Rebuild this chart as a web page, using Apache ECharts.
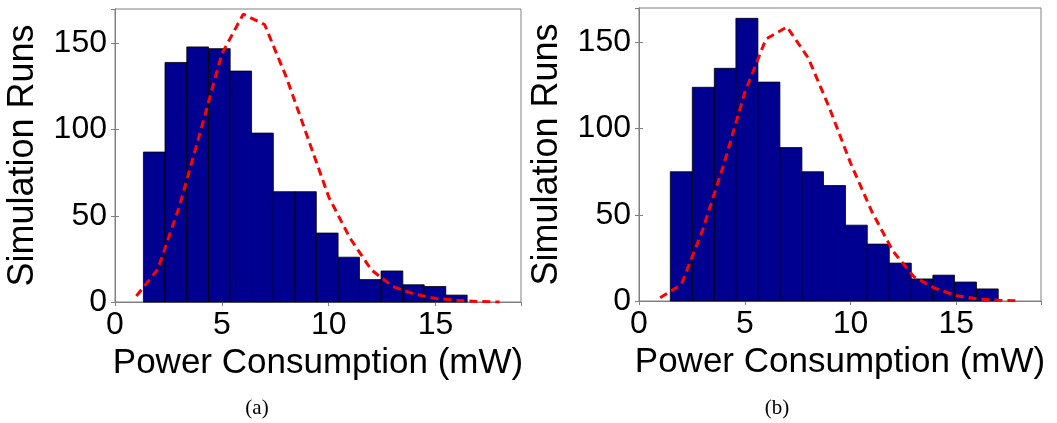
<!DOCTYPE html>
<html>
<head>
<meta charset="utf-8">
<script src="https://cdn.jsdelivr.net/npm/echarts@6/dist/echarts.min.js"></script>
<style>html,body{margin:0;padding:0;background:#fff;}#c{width:1057px;height:423px;}</style>
</head>
<body>
<div id="c"></div>
<script>
// ---- Data ----
const binEdgesA = [1.33, 2.34, 3.36, 4.38, 5.39, 6.39, 7.41, 8.42, 9.42, 10.44, 11.44, 12.45, 13.47, 14.47, 15.48, 16.48];
const countsA = [87, 139, 148, 147, 134, 98, 64, 64, 40, 26, 13, 18, 10, 9, 4];
const curveXA = [1, 2, 3, 4, 5, 6, 7, 8, 9, 10, 11, 12, 13, 14, 15, 16, 17, 18];
const curveYA = [3.5, 19, 55, 99, 144, 167, 161, 131, 96, 61, 37, 18.6, 9, 4.6, 2.1, 1, 0.3, 0];

const binEdgesB = [1.48, 2.52, 3.56, 4.58, 5.62, 6.66, 7.70, 8.72, 9.76, 10.79, 11.83, 12.87, 13.89, 14.91, 15.95, 16.98];
const countsB = [75, 124, 135, 164, 127, 89, 75, 67, 44, 33, 22, 12.8, 15, 11, 7];
const curveXB = [1, 2, 3, 4, 5, 6, 7, 8, 9, 10, 11, 12, 13, 14, 15, 16, 17, 18];
const curveYB = [1.9, 9.5, 41, 79, 121, 152, 159, 141, 112, 80, 52, 29, 14, 7.3, 3.1, 1.2, 0.4, 0];

const xTicks = [0, 5, 10, 15];
const yTicks = [0, 50, 100, 150];
const xTitle = 'Power Consumption (mW)';
const yTitle = 'Simulation Runs';
const captions = ['(a)', '(b)'];

// ---- Chart ----
const FONT = '"Liberation Sans", Arial, Helvetica, sans-serif';
const GRAY = '#808080';
const chart = echarts.init(document.getElementById('c'));

function histData(edges, counts) {
  return counts.map((c, i) => [edges[i], edges[i + 1], c]);
}
function renderBar(params, api) {
  const p0 = api.coord([api.value(0), api.value(2)]);
  const p1 = api.coord([api.value(1), 0]);
  return {
    type: 'rect',
    shape: { x: p0[0], y: p0[1], width: p1[0] - p0[0], height: p1[1] - p0[1] },
    style: { fill: '#000090', stroke: '#000000', lineWidth: 0.8 }
  };
}
function xAx(gi, pos, showLabel) {
  return {
    type: 'value', gridIndex: gi, position: pos, min: 0, max: 19, interval: 5,
    name: showLabel ? xTitle : '', nameLocation: 'middle', nameGap: 40,
    nameTextStyle: { fontFamily: FONT, fontSize: 35, color: '#000' },
    axisLine: { show: true, lineStyle: { color: GRAY, width: 1 } },
    axisTick: { show: true, inside: true, length: 4, lineStyle: { color: GRAY } },
    axisLabel: {
      show: showLabel, fontFamily: FONT, fontSize: 32, color: '#000', margin: 7,
      showMaxLabel: false,
      formatter: v => (xTicks.indexOf(v) >= 0 ? String(v) : '')
    },
    splitLine: { show: false }
  };
}
function yAx(gi, pos, showLabel) {
  return {
    type: 'value', gridIndex: gi, position: pos, min: 0, max: 170, interval: 50,
    name: showLabel ? yTitle : '', nameLocation: 'middle', nameGap: 74,
    nameTextStyle: { fontFamily: FONT, fontSize: 36, color: '#000' },
    axisLine: { show: true, lineStyle: { color: GRAY, width: 1 } },
    axisTick: { show: true, inside: true, length: 4, lineStyle: { color: GRAY } },
    axisLabel: {
      show: showLabel, fontFamily: FONT, fontSize: 32, color: '#000', margin: 8,
      showMaxLabel: false,
      formatter: v => (yTicks.indexOf(v) >= 0 ? String(v) : '')
    },
    splitLine: { show: false }
  };
}

const option = {
  backgroundColor: '#ffffff',
  animation: false,
  grid: [
    { left: 115, top: 9, width: 406, height: 293, show: true, borderColor: GRAY, borderWidth: 1, backgroundColor: '#fff' },
    { left: 639, top: 8, width: 402, height: 293, show: true, borderColor: GRAY, borderWidth: 1, backgroundColor: '#fff' }
  ],
  xAxis: [xAx(0, 'bottom', true), xAx(0, 'top', false), xAx(1, 'bottom', true), xAx(1, 'top', false)],
  yAxis: [yAx(0, 'left', true), yAx(0, 'right', false), yAx(1, 'left', true), yAx(1, 'right', false)],
  series: [
    { type: 'custom', xAxisIndex: 0, yAxisIndex: 0, renderItem: renderBar, encode: { x: [0, 1], y: 2 }, data: histData(binEdgesA, countsA), z: 2 },
    { type: 'line', xAxisIndex: 0, yAxisIndex: 0, data: curveXA.map((x, i) => [x, curveYA[i]]), symbol: 'none', lineStyle: { color: '#ff0000', width: 3, type: [8, 5] }, z: 3 },
    { type: 'custom', xAxisIndex: 2, yAxisIndex: 2, renderItem: renderBar, encode: { x: [0, 1], y: 2 }, data: histData(binEdgesB, countsB), z: 2 },
    { type: 'line', xAxisIndex: 2, yAxisIndex: 2, data: curveXB.map((x, i) => [x, curveYB[i]]), symbol: 'none', lineStyle: { color: '#ff0000', width: 3, type: [8, 5] }, z: 3 }
  ],
  graphic: [
    { type: 'text', x: 257, y: 398, style: { text: captions[0], fontFamily: '"Liberation Serif", "Times New Roman", serif', fontSize: 21, fill: '#000', align: 'center' } },
    { type: 'text', x: 777, y: 398, style: { text: captions[1], fontFamily: '"Liberation Serif", "Times New Roman", serif', fontSize: 21, fill: '#000', align: 'center' } }
  ]
};
chart.setOption(option);
</script>
</body>
</html>
